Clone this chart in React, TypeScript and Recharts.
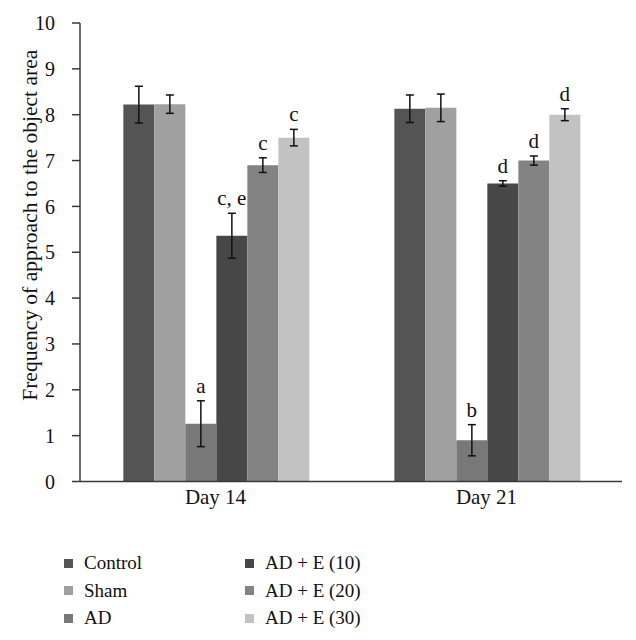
import React from "react";
import {
  BarChart,
  Bar,
  XAxis,
  YAxis,
  ErrorBar,
  LabelList,
  Legend,
  Label,
} from "recharts";

const categories = ["Day 14", "Day 21"];

const control = [8.22, 8.13];
const controlErr = [0.4, 0.3];
const sham = [8.23, 8.15];
const shamErr = [0.2, 0.3];
const ad = [1.26, 0.9];
const adErr = [0.5, 0.34];
const ade10 = [5.36, 6.5];
const ade10Err = [0.49, 0.06];
const ade20 = [6.9, 7.0];
const ade20Err = [0.16, 0.1];
const ade30 = [7.5, 8.0];
const ade30Err = [0.18, 0.13];

const adLetters = ["a", "b"];
const ade10Letters = ["c, e", "d"];
const ade20Letters = ["c", "d"];
const ade30Letters = ["c", "d"];

const yTicks = [0, 1, 2, 3, 4, 5, 6, 7, 8, 9, 10];

const FONT = "'Liberation Serif', 'Times New Roman', serif";

const data = categories.map((day, i) => ({
  day,
  control: control[i],
  controlErr: controlErr[i],
  sham: sham[i],
  shamErr: shamErr[i],
  ad: ad[i],
  adErr: adErr[i],
  adLetter: adLetters[i],
  ade10: ade10[i],
  ade10Err: ade10Err[i],
  ade10Letter: ade10Letters[i],
  ade20: ade20[i],
  ade20Err: ade20Err[i],
  ade20Letter: ade20Letters[i],
  ade30: ade30[i],
  ade30Err: ade30Err[i],
  ade30Letter: ade30Letters[i],
}));

// letter sits just above the top of the error bar
const letterContent = (values: number[], errs: number[]) => (props: any) => {
  const { x, y, width, height, value, index } = props;
  if (!value) return null;
  const v = values[index];
  const pxPerUnit = v ? height / v : 0;
  const top = y - errs[index] * pxPerUnit;
  return (
    <text
      x={x + width / 2}
      y={top - 8}
      textAnchor="middle"
      fontFamily={FONT}
      fontSize={21}
      fill="#111"
    >
      {value}
    </text>
  );
};

const renderLegend = (props: any) => {
  const { payload } = props;
  return (
    <div
      style={{
        display: "grid",
        gridAutoFlow: "column",
        gridTemplateRows: "repeat(3, 27.5px)",
        gridTemplateColumns: "181px 200px",
        paddingLeft: 56,
        fontFamily: FONT,
        fontSize: 19,
        color: "#111",
      }}
    >
      {payload.map((entry: any, i: number) => (
        <div key={i} style={{ display: "flex", alignItems: "center" }}>
          <div
            style={{
              width: 9,
              height: 9,
              backgroundColor: entry.color,
              marginRight: 11,
            }}
          />
          <span>{entry.value}</span>
        </div>
      ))}
    </div>
  );
};

const App: React.FC = () => {
  return (
    <div style={{ width: 620, height: 632, background: "#fff" }}>
      <BarChart
        width={620}
        height={632}
        data={data}
        margin={{ top: 15, right: 6, bottom: 8, left: 0 }}
        barGap={0}
        barCategoryGap="16%"
      >
        <XAxis
          dataKey="day"
          height={68}
          tickLine={false}
          tickSize={0}
          tickMargin={8}
          axisLine={{ stroke: "#3a3a3a", strokeWidth: 1.5 }}
          tick={{ fontFamily: FONT, fontSize: 21, fill: "#111" }}
        />
        <YAxis
          width={72}
          domain={[0, 10]}
          ticks={yTicks}
          interval={0}
          tickSize={8}
          tickMargin={17}
          axisLine={{ stroke: "#3a3a3a", strokeWidth: 1.5 }}
          tickLine={{ stroke: "#3a3a3a", strokeWidth: 1.5 }}
          tick={{ fontFamily: FONT, fontSize: 20, fill: "#111" }}
        >
          <Label
            content={(p: any) => {
              const vb = p.viewBox;
              const cx = 22;
              const cy = vb.y + vb.height / 2 - 27;
              return (
                <text
                  x={cx}
                  y={cy}
                  transform={`rotate(-90, ${cx}, ${cy})`}
                  textAnchor="middle"
                  dominantBaseline="central"
                  fontFamily={FONT}
                  fontSize={21.5}
                  fill="#111"
                >
                  Frequency of approach to the object area
                </text>
              );
            }}
          />
        </YAxis>
        <Legend verticalAlign="bottom" itemSorter={null} content={renderLegend} />
        <Bar dataKey="control" name="Control" fill="#545454" isAnimationActive={false}>
          <ErrorBar dataKey="controlErr" width={4} stroke="#111" strokeWidth={1.5} />
        </Bar>
        <Bar dataKey="sham" name="Sham" fill="#a0a0a0" isAnimationActive={false}>
          <ErrorBar dataKey="shamErr" width={4} stroke="#111" strokeWidth={1.5} />
        </Bar>
        <Bar dataKey="ad" name="AD" fill="#787878" isAnimationActive={false}>
          <ErrorBar dataKey="adErr" width={4} stroke="#111" strokeWidth={1.5} />
          <LabelList dataKey="adLetter" content={letterContent(ad, adErr)} />
        </Bar>
        <Bar dataKey="ade10" name="AD + E (10)" fill="#474747" isAnimationActive={false}>
          <ErrorBar dataKey="ade10Err" width={4} stroke="#111" strokeWidth={1.5} />
          <LabelList dataKey="ade10Letter" content={letterContent(ade10, ade10Err)} />
        </Bar>
        <Bar dataKey="ade20" name="AD + E (20)" fill="#838383" isAnimationActive={false}>
          <ErrorBar dataKey="ade20Err" width={4} stroke="#111" strokeWidth={1.5} />
          <LabelList dataKey="ade20Letter" content={letterContent(ade20, ade20Err)} />
        </Bar>
        <Bar dataKey="ade30" name="AD + E (30)" fill="#c2c2c2" isAnimationActive={false}>
          <ErrorBar dataKey="ade30Err" width={4} stroke="#111" strokeWidth={1.5} />
          <LabelList dataKey="ade30Letter" content={letterContent(ade30, ade30Err)} />
        </Bar>
      </BarChart>
    </div>
  );
};

export default App;
